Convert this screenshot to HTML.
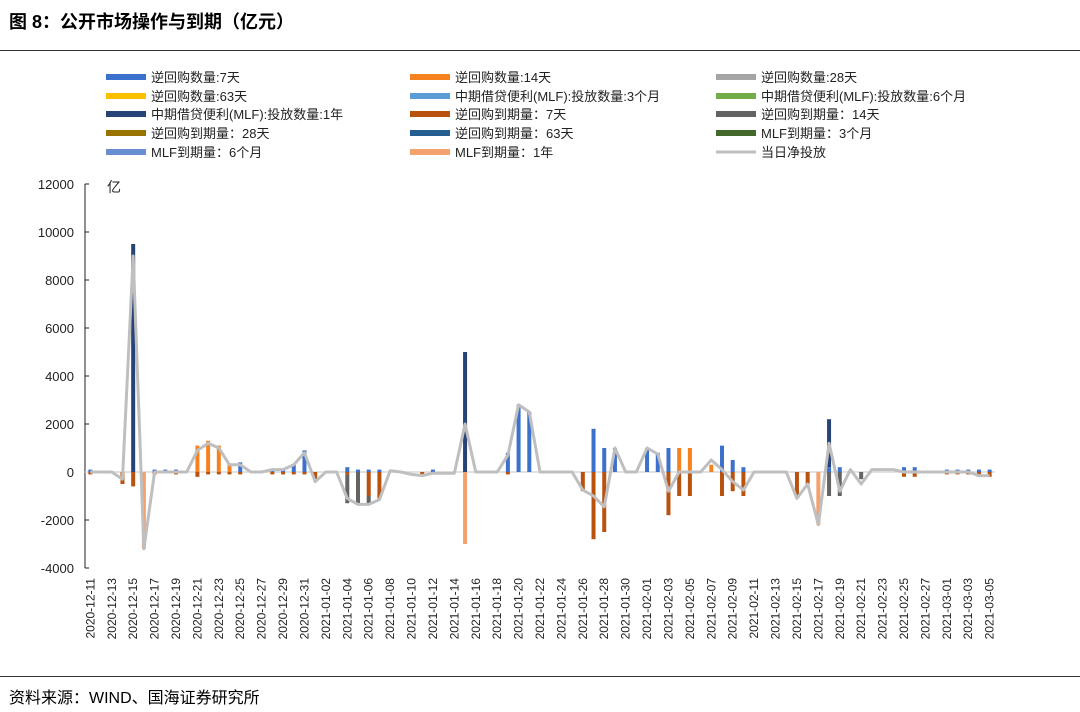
<!DOCTYPE html>
<html><head><meta charset="utf-8">
<style>
body{margin:0;background:#fff;width:1080px;height:712px;overflow:hidden;font-family:"Liberation Sans","Noto Sans CJK SC",sans-serif;}
#title{position:absolute;left:9px;top:8px;font-size:18px;font-weight:bold;color:#000;}
#hr1{position:absolute;left:0;top:50px;width:1080px;height:1px;background:#333;}
#hr2{position:absolute;left:0;top:676px;width:1080px;height:1px;background:#333;}
#source{position:absolute;left:9px;top:684px;font-size:16px;color:#000;}
svg{position:absolute;left:0;top:0;}
</style></head><body>
<div id="title">图 8：公开市场操作与到期（亿元）</div>
<div id="hr1"></div>
<svg id="chart" width="1080" height="712"></svg>
<div id="hr2"></div>
<div id="source">资料来源：WIND、国海证券研究所</div>
<script>
const yTicks=[12000,10000,8000,6000,4000,2000,0,-2000,-4000];
const categories=[];
(function(){const d=new Date(Date.UTC(2020,11,11));for(let i=0;i<85;i++){const t=new Date(d.getTime()+i*86400000);categories.push(t.toISOString().slice(0,10));}})();
const N=85;
function sparse(o){const a=new Array(N).fill(0);for(const k in o)a[k]=o[k];return a;}
const rr7=sparse({0:100,6:100,7:100,8:100,14:400,17:100,18:100,19:300,20:900,24:200,25:100,26:100,27:100,32:100,39:800,40:2800,41:2500,47:1800,48:1000,49:1000,52:1000,53:800,54:1000,59:1100,60:500,61:200,69:200,70:200,76:200,77:200,80:100,81:100,82:100,83:100,84:100});
const rr14=sparse({10:1100,11:1300,12:1100,13:300,55:1000,56:1000,58:300});
const mlf1y=sparse({4:9500,35:5000,69:2000});
const mat7=sparse({0:-100,3:-500,4:-600,6:-100,8:-100,10:-200,11:-100,12:-100,13:-100,14:-100,17:-100,18:-100,19:-100,20:-100,21:-300,24:-100,26:-1000,27:-1100,31:-100,39:-100,46:-800,47:-2800,48:-2500,54:-1800,55:-1000,56:-1000,59:-1000,60:-800,61:-1000,66:-1000,67:-500,76:-200,77:-200,80:-100,81:-100,82:-100,83:-200,84:-200});
const mat14=sparse({24:-1200,25:-1300,26:-300,69:-1000,70:-1000,72:-300});
const matMlf1y=sparse({5:-3200,35:-3000,68:-2200});
const net=[0,0,0,-300,9000,-3200,0,0,0,0,900,1200,1000,300,300,0,0,100,100,300,800,-400,0,0,-1100,-1350,-1350,-1150,50,0,-100,-150,-50,-50,-50,2000,0,0,0,700,2800,2500,0,0,0,0,-750,-1000,-1450,1000,0,0,1000,750,-800,0,0,0,500,100,-400,-750,0,0,0,0,-1100,-500,-2200,1200,-800,100,-500,100,100,100,0,0,0,0,0,0,0,-150,-150];

const legendItems=[
["逆回购数量:7天","#3b70cc","bar"],["逆回购数量:14天","#f5821f","bar"],["逆回购数量:28天","#a5a5a5","bar"],
["逆回购数量:63天","#ffc000","bar"],["中期借贷便利(MLF):投放数量:3个月","#5b9bd5","bar"],["中期借贷便利(MLF):投放数量:6个月","#70ad47","bar"],
["中期借贷便利(MLF):投放数量:1年","#264478","bar"],["逆回购到期量：7天","#b9520f","bar"],["逆回购到期量：14天","#636363","bar"],
["逆回购到期量：28天","#997300","bar"],["逆回购到期量：63天","#255e91","bar"],["MLF到期量：3个月","#43682b","bar"],
["MLF到期量：6个月","#698ed0","bar"],["MLF到期量：1年","#f4a16e","bar"],["当日净投放","#bfbfbf","line"]];

const svg=document.getElementById('chart');const NS='http://www.w3.org/2000/svg';
function mk(tag,attrs,parent){const e=document.createElementNS(NS,tag);for(const k in attrs)e.setAttribute(k,attrs[k]);(parent||svg).appendChild(e);return e;}
const x0=85,x1=995,yTop=184,yBot=568,vMax=12000,vMin=-4000;
const cw=(x1-x0)/N;
function xC(i){return x0+(i+0.5)*cw;}
function yV(v){return yTop+(vMax-v)/(vMax-vMin)*(yBot-yTop);}

// legend
const colX=[106,410,716],rowY=[77,96,114,133,152];
legendItems.forEach((it,k)=>{
  const c=k%3,r=Math.floor(k/3);
  const g=mk('g',{});
  
  
  if(it[2]==='bar'){const s=mk('rect',{x:colX[c],y:rowY[r]-3,width:40,height:6,fill:it[1]},g);}
  else{mk('line',{x1:colX[c],x2:colX[c]+40,y1:rowY[r],y2:rowY[r],stroke:it[1],'stroke-width':3},g);}
  const t=mk('text',{x:colX[c]+45,y:rowY[r]+5,'font-size':13,fill:'#222'},g);t.textContent=it[0];
});

// y axis
const ax=mk('line',{x1:x0,x2:x0,y1:yTop,y2:yBot,stroke:'#222','stroke-width':1});


yTicks.forEach(v=>{
  mk('line',{x1:x0,x2:x0+4,y1:yV(v),y2:yV(v),stroke:'#222'});
  const t=mk('text',{x:74,y:yV(v)+5,'font-size':13,'text-anchor':'end',fill:'#222'});
  
  
  t.textContent=v;
});
const unit=mk('text',{x:107,y:192,'font-size':14,fill:'#222'});


unit.textContent='亿';

// zero line
const zl=mk('line',{x1:x0,x2:x1,y1:yV(0),y2:yV(0),stroke:'#d9d9d9','stroke-width':1.5});



// bars
const posSeries=[[rr7,'#3b70cc'],[rr14,'#f5821f'],[mlf1y,'#264478']];
const negSeries=[[mat7,'#b9520f'],[mat14,'#636363'],[matMlf1y,'#f4a16e']];
for(let i=0;i<N;i++){
  let acc=0;
  posSeries.forEach(s=>{const v=s[0][i];if(v>0){const r=mk('rect',{x:xC(i)-2,y:yV(acc+v),width:4,height:yV(acc)-yV(acc+v),fill:s[1]});
    
    acc+=v;}});
  acc=0;
  negSeries.forEach(s=>{const v=s[0][i];if(v<0){const r=mk('rect',{x:xC(i)-2,y:yV(acc),width:4,height:yV(acc+v)-yV(acc),fill:s[1]});
    
    acc+=v;}});
}
// net line
const pl=mk('polyline',{points:net.map((v,i)=>xC(i)+','+yV(v)).join(' '),fill:'none',stroke:'#bfbfbf','stroke-width':3,'stroke-linejoin':'round'});



// x labels
for(let i=0;i<N;i+=2){
  const x=xC(i),y=578;
  const t=mk('text',{x:x+4,y:y,'font-size':12,'text-anchor':'end',fill:'#222',transform:`rotate(-90 ${x+4} ${y})`});
  
  
  t.textContent=categories[i];
}
</script>
</body></html>
